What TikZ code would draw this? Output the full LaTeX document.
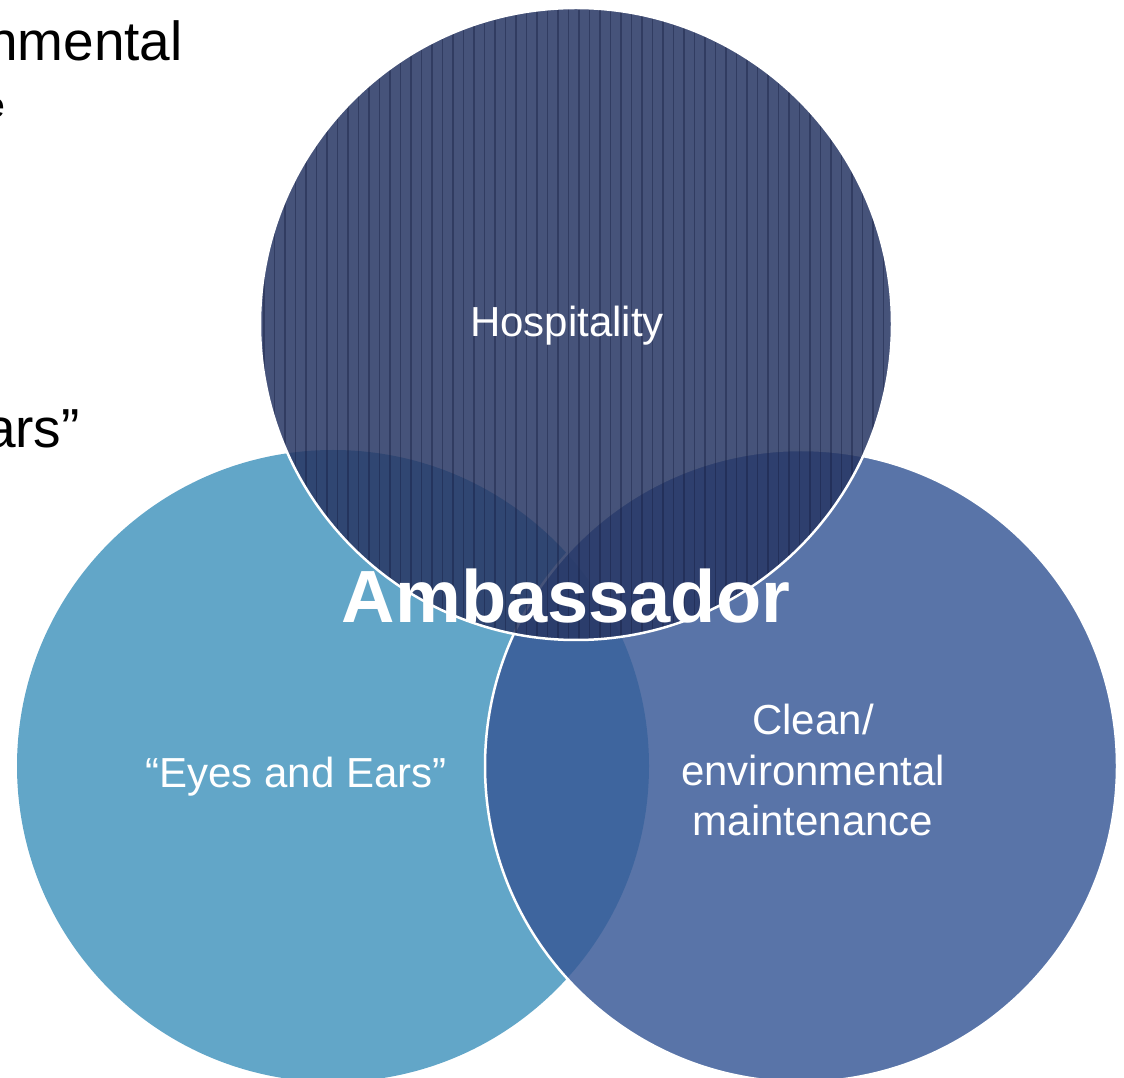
\documentclass[tikz,border=0pt]{standalone}
\usepackage{fontspec}
\setmainfont{Liberation Sans}
\definecolor{leftc}{RGB}{98,166,200}
\definecolor{rightc}{RGB}{55,88,150}
\definecolor{topc}{RGB}{40,55,100}
\definecolor{stripec}{RGB}{22,32,68}
\begin{document}
\begin{tikzpicture}[x=1pt,y=1pt,
  lbl/.style={text=white,font=\fontsize{42}{50}\selectfont,inner sep=0pt,anchor=base},
  bgtext/.style={text=black,inner sep=0pt,anchor=base east},
  outline/.style={draw=white,line width=2.5pt}]
\useasboundingbox (0,0) rectangle (1124,1077);
% background text fragments
\node[bgtext,font=\fontsize{55}{66}\selectfont] (bgA) at (183,1016) {environmental};
\node[bgtext,font=\fontsize{35}{42}\selectfont] (bgB) at (5,959) {maintenance};
\node[bgtext,font=\fontsize{55}{66}\selectfont] (bgC) at (80,629) {Ears”};
% left circle
\fill[leftc] (333,311) circle (316);
% right circle
\fill[rightc,fill opacity=0.83] (801,311) circle (316);
\draw[outline] (801,311) circle (316);
% top circle
\begin{scope}
  \clip (576,753) circle (316);
  \fill[topc,fill opacity=0.86] (576,753) circle (316);
  \foreach \i in {0,...,61}{
    \draw[stripec,line width=1.4pt,opacity=0.45] (264+\i*10.5,430) -- (264+\i*10.5,1077);
  }
\end{scope}
\draw[outline] (576,753) circle (316);
% labels
\node[lbl] (hosp) at (567,740) {Hospitality};
\node[lbl] (eyes) at (296,290) {“Eyes and Ears”};
\node[lbl] (clean1) at (813,342) {Clean/};
\node[lbl] (clean2) at (813,292) {environmental};
\node[lbl] (clean3) at (813,242) {maintenance};
\node[lbl,font=\bfseries\fontsize{74}{88}\selectfont] (amb) at (566,454) {Ambassador};
\end{tikzpicture}
\end{document}
